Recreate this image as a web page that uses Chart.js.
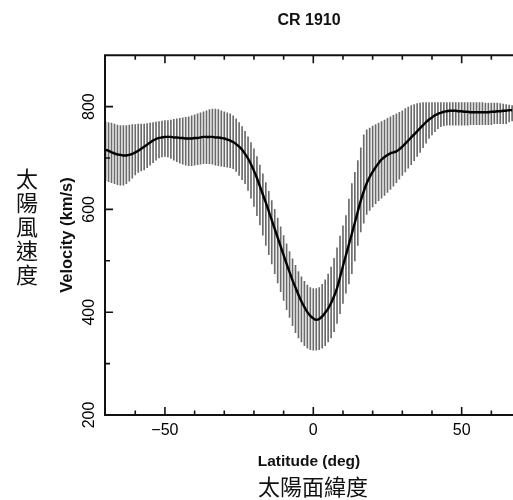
<!DOCTYPE html>
<html>
<head>
<meta charset="utf-8">
<script src="https://cdn.jsdelivr.net/npm/chart.js@4/dist/chart.umd.min.js"></script>
<style>
body { margin: 0; background: #fff; }
#wrap { width: 513px; height: 500px; }
</style>
</head>
<body>
<div id="wrap"><canvas id="cv" width="513" height="500"></canvas></div>
<script>
// latitude of each error bar (deg)
var lats = [-70, -69, -68, -67, -66, -65, -64, -63, -62, -61,
    -60, -59, -58, -57, -56, -55, -54, -53, -52, -51,
    -50, -49, -48, -47, -46, -45, -44, -43, -42, -41,
    -40, -39, -38, -37, -36, -35, -34, -33, -32, -31,
    -30, -29, -28, -27, -26, -25, -24, -23, -22, -21,
    -20, -19, -18, -17, -16, -15, -14, -13, -12, -11,
    -10, -9, -8, -7, -6, -5, -4, -3, -2, -1,
    0, 1, 2, 3, 4, 5, 6, 7, 8, 9,
    10, 11, 12, 13, 14, 15, 16, 17, 18, 19,
    20, 21, 22, 23, 24, 25, 26, 27, 28, 29,
    30, 31, 32, 33, 34, 35, 36, 37, 38, 39,
    40, 41, 42, 43, 44, 45, 46, 47, 48, 49,
    50, 51, 52, 53, 54, 55, 56, 57, 58, 59,
    60, 61, 62, 63, 64, 65, 66, 67];
// smoothed velocity curve (km/s)
var curve = [716, 714, 711, 709, 707, 706, 705, 705, 706, 708,
    711, 714, 718, 722, 726, 730, 734, 737, 739, 740,
    741, 741, 741, 740, 740, 739, 739, 738, 738, 738,
    739, 739, 740, 741, 741, 741, 741, 740, 740, 739,
    738, 736, 734, 731, 727, 722, 716, 708, 699, 688,
    675, 661, 645, 629, 613, 596, 579, 562, 545, 528,
    511, 494, 478, 462, 448, 434, 421, 410, 400, 393,
    388, 385, 387, 392, 399, 407, 418, 431, 447, 468,
    490, 511, 532, 553, 574, 596, 617, 635, 651, 663,
    673, 682, 690, 697, 702, 706, 709, 711, 713, 717,
    722, 728, 734, 740, 746, 752, 758, 764, 770, 775,
    779, 783, 786, 788, 790, 791, 792, 792, 792, 791,
    791, 790, 790, 789, 789, 789, 789, 789, 789, 789,
    790, 790, 791, 791, 792, 792, 793, 793];
// top of each error bar
var barHigh = [770, 769, 768, 766, 764, 763, 763, 763, 764, 765,
    765, 766, 766, 766, 767, 768, 769, 770, 771, 772,
    773, 773, 774, 775, 776, 777, 778, 779, 780, 782,
    784, 786, 788, 790, 792, 794, 795, 795, 794, 792,
    790, 788, 786, 782, 776, 769, 761, 752, 741, 730,
    718, 703, 686, 669, 652, 635, 617, 600, 583, 566,
    549, 533, 518, 504, 491, 479, 469, 460, 453, 448,
    446, 446, 448, 454, 463, 474, 488, 505, 525, 548,
    568, 588, 620, 650, 672, 695, 720, 745, 755, 758,
    762, 765, 768, 771, 774, 777, 780, 783, 786, 789,
    792, 796, 799, 802, 804, 806, 807, 808, 808, 808,
    808, 808, 808, 808, 808, 808, 808, 808, 808, 808,
    808, 808, 808, 808, 808, 808, 808, 808, 807, 807,
    807, 807, 807, 806, 805, 804, 803, 802];
// bottom of each error bar
var barLow = [656, 654, 652, 650, 648, 647, 647, 650, 655, 661,
    667, 672, 675, 677, 681, 686, 691, 696, 700, 702,
    703, 702, 699, 696, 693, 690, 688, 686, 685, 685,
    686, 687, 688, 689, 689, 689, 688, 686, 685, 684,
    683, 682, 681, 679, 674, 666, 658, 650, 637, 622,
    606, 588, 570, 550, 530, 512, 494, 475, 457, 440,
    423, 405, 390, 374, 360, 350, 342, 335, 330, 327,
    326, 326, 327, 330, 335, 342, 350, 362, 378, 397,
    417, 437, 455, 475, 500, 530, 556, 573, 590, 598,
    605, 611, 617, 622, 627, 633, 639, 645, 652, 659,
    666, 673, 680, 687, 695, 703, 711, 720, 729, 738,
    745, 751, 757, 761, 763, 764, 764, 764, 764, 764,
    764, 764, 764, 765, 765, 765, 765, 765, 765, 765,
    765, 767, 767, 767, 767, 767, 770, 772];

var xTicks = [-50, 0, 50];
var xMinor = [-60, -50, -40, -30, -20, -10, 0, 10, 20, 30, 40, 50, 60];
var yTicks = [200, 400, 600, 800];
var yMinor = [300, 400, 500, 600, 700, 800];

var barData = lats.map(function(x, i) {
    return { x: x, y: [barLow[i], barHigh[i]] };
});
var lineData = lats.map(function(x, i) {
    return { x: x, y: curve[i] };
});

// inward ticks + frame, plus the chinese labels
var frameTicks = {
    id: 'frameTicks',
    afterDatasetsDraw: function(chart) {
        var ctx = chart.ctx, a = chart.chartArea,
            xs = chart.scales.x, ys = chart.scales.y;
        ctx.save();
        ctx.strokeStyle = '#111';
        ctx.lineWidth = 2;
        ctx.beginPath();
        ctx.moveTo(a.right + 2, a.top);
        ctx.lineTo(a.left, a.top);
        ctx.lineTo(a.left, a.bottom);
        ctx.lineTo(a.right + 2, a.bottom);
        ctx.stroke();
        ctx.lineWidth = 1.6;
        ctx.beginPath();
        xMinor.forEach(function(v) {
            var px = xs.getPixelForValue(v),
                len = xTicks.indexOf(v) >= 0 ? 8 : 4.5;
            ctx.moveTo(px, a.bottom);
            ctx.lineTo(px, a.bottom - len);
            ctx.moveTo(px, a.top);
            ctx.lineTo(px, a.top + len);
        });
        yMinor.forEach(function(v) {
            var py = ys.getPixelForValue(v),
                len = yTicks.indexOf(v) >= 0 ? 8 : 5;
            ctx.moveTo(a.left, py);
            ctx.lineTo(a.left + len, py);
        });
        ctx.stroke();
        ctx.restore();
    },
    afterDraw: function(chart) {
        var ctx = chart.ctx;
        ctx.save();
        ctx.fillStyle = '#111';
        ctx.font = '22px "Noto Sans CJK TC"';
        ctx.textAlign = 'center';
        ctx.textBaseline = 'middle';
        var side = ['太', '陽', '風', '速', '度'];
        side.forEach(function(ch, i) {
            ctx.fillText(ch, 27, 179 + i * 24);
        });
        ctx.fillText('太陽面緯度', 313, 487);
        ctx.restore();
    }
};

var chart = new Chart(document.getElementById('cv').getContext('2d'), {
    type: 'bar',
    data: {
        datasets: [{
            type: 'line',
            data: lineData,
            borderColor: '#000',
            borderWidth: 2.4,
            pointRadius: 0,
            tension: 0.4,
            order: 1
        }, {
            type: 'bar',
            data: barData,
            backgroundColor: '#6a6a6a',
            borderWidth: 0,
            barThickness: 1,
            order: 2
        }]
    },
    options: {
        responsive: false,
        animation: false,
        devicePixelRatio: 1,
        layout: {
            padding: { left: 58, right: 0, top: 0, bottom: 29 }
        },
        plugins: {
            legend: { display: false },
            tooltip: { enabled: false },
            title: {
                display: true,
                text: 'CR 1910',
                fullSize: false,
                color: '#111',
                font: { family: 'Liberation Sans', size: 16, weight: 'bold' },
                padding: { top: 11, bottom: 25 }
            }
        },
        scales: {
            x: {
                type: 'linear',
                min: -70.2,
                max: 67.3,
                offset: false,
                grid: { display: false, drawTicks: false },
                border: { display: false },
                afterBuildTicks: function(s) {
                    s.ticks = xTicks.map(function(v) { return { value: v }; });
                },
                afterFit: function(s) {
                    s.height = 56;
                },
                ticks: {
                    padding: 6,
                    color: '#000',
                    maxRotation: 0,
                    font: { family: 'Liberation Sans', size: 16 },
                    callback: function(v) {
                        return v < 0 ? '\u2212' + (-v) : String(v);
                    }
                },
                title: {
                    display: true,
                    text: 'Latitude (deg)',
                    color: '#111',
                    padding: 0,
                    font: { family: 'Liberation Sans', size: 15.5, weight: 'bold' }
                }
            },
            y: {
                min: 200,
                max: 900,
                grid: { display: false, drawTicks: false },
                border: { display: false },
                afterBuildTicks: function(s) {
                    s.ticks = yTicks.map(function(v) { return { value: v }; });
                },
                afterFit: function(s) {
                    s.width = 47;
                },
                ticks: {
                    padding: 2,
                    color: '#000',
                    minRotation: 90,
                    maxRotation: 90,
                    crossAlign: 'center',
                    font: { family: 'Liberation Sans', size: 16 }
                },
                title: {
                    display: true,
                    text: 'Velocity (km/s)',
                    color: '#111',
                    padding: 0,
                    font: { family: 'Liberation Sans', size: 16.5, weight: 'bold' }
                }
            }
        }
    },
    plugins: [frameTicks]
});
</script>
</body>
</html>
